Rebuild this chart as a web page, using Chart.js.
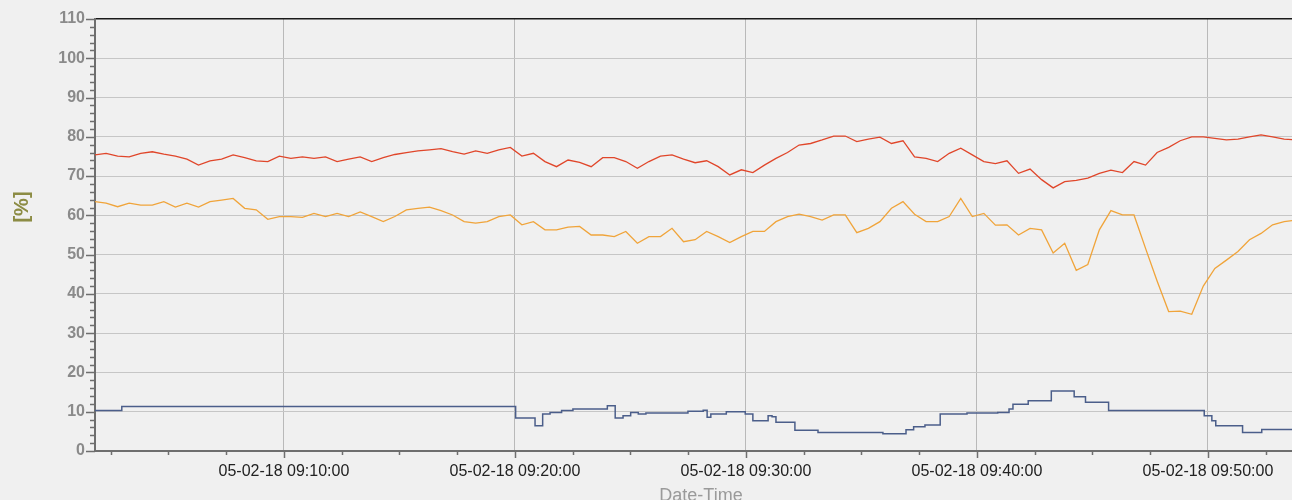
<!DOCTYPE html>
<html>
<head>
<meta charset="utf-8">
<script src="https://cdn.jsdelivr.net/npm/chart.js@4.4.1/dist/chart.umd.min.js"></script>
<style>
  html, body { margin: 0; padding: 0; background: #f0f0f0; overflow: hidden; }
  #wrap { width: 1292px; height: 500px; position: relative; }
</style>
</head>
<body>
<div id="wrap"><canvas id="myChart"></canvas></div>
<script>
// logger samples every 30 s, minutes after 09:00
const sampleStart = 1.8;
const sampleStep = 0.5;

const redValues = [
  75.4, 75.8, 75.1, 74.9, 75.8, 76.2, 75.6, 75.1, 74.3, 72.8,
  73.9, 74.3, 75.4, 74.7, 73.9, 73.7, 75.1, 74.5, 74.9, 74.5,
  74.9, 73.7, 74.3, 74.9, 73.7, 74.7, 75.5, 76.0, 76.4, 76.7,
  77.0, 76.2, 75.6, 76.4, 75.8, 76.7, 77.3, 75.1, 75.8, 73.7,
  72.4, 74.1, 73.5, 72.4, 74.7, 74.7, 73.7, 72.0, 73.7, 75.1,
  75.4, 74.3, 73.4, 73.9, 72.4, 70.3, 71.6, 70.9, 72.8, 74.5,
  76.0, 77.9, 78.3, 79.2, 80.2, 80.2, 78.8, 79.4, 79.9, 78.3,
  79.0, 74.9, 74.5, 73.7, 75.8, 77.1, 75.4, 73.7, 73.2, 73.9,
  70.7, 71.8, 69.1, 67.0, 68.6, 68.9, 69.5, 70.7, 71.5, 70.9,
  73.7, 72.8, 76.0, 77.3, 79.0, 80.0, 80.0, 79.6, 79.2, 79.4,
  80.0, 80.5, 80.0, 79.4, 79.2
];

const orangeValues = [
  63.5, 63.1, 62.2, 63.1, 62.6, 62.6, 63.5, 62.1, 63.1, 62.1,
  63.5, 63.9, 64.3, 61.8, 61.4, 59.0, 59.7, 59.7, 59.5, 60.5,
  59.7, 60.5, 59.7, 60.9, 59.7, 58.4, 59.7, 61.4, 61.8, 62.1,
  61.2, 60.1, 58.4, 58.0, 58.4, 59.7, 60.1, 57.6, 58.4, 56.3,
  56.3, 57.0, 57.2, 55.0, 55.0, 54.6, 55.9, 52.9, 54.6, 54.6,
  56.7, 53.3, 53.8, 55.9, 54.6, 53.1, 54.6, 55.9, 55.9, 58.4,
  59.7, 60.3, 59.7, 58.8, 60.1, 60.1, 55.6, 56.7, 58.4, 61.8,
  63.5, 60.3, 58.4, 58.4, 59.7, 64.3, 59.7, 60.5, 57.5, 57.6,
  55.0, 56.7, 56.3, 50.4, 52.9, 46.0, 47.5, 56.3, 61.2, 60.1,
  60.1, 51.6, 43.3, 35.5, 35.6, 34.8, 42.0, 46.5, 48.6, 50.8,
  53.8, 55.4, 57.6, 58.4, 58.8
];

// blue series is a step signal: time of each change and the new value
const blueTimes = [
  1.82, 2.98, 20.03, 20.87, 21.2, 21.52, 22.02, 22.51, 24.0, 24.34,
  24.68, 25.01, 25.34, 25.67, 27.49, 28.15, 28.32, 28.48, 29.15, 29.97,
  30.3, 30.96, 31.13, 31.3, 32.12, 33.12, 35.93, 36.93, 37.26, 37.75,
  38.41, 39.57, 40.9, 41.39, 41.56, 42.22, 43.22, 44.21, 44.7, 45.7,
  49.84, 50.17, 50.34, 51.5, 52.33, 53.64
];
const blueValues = [
  10.3, 11.3, 8.4, 6.4, 9.4, 9.8, 10.3, 10.7, 11.5, 8.4,
  9.0, 9.8, 9.4, 9.7, 10.1, 10.4, 8.6, 9.4, 10.0, 9.4,
  7.7, 9.0, 8.7, 7.3, 5.3, 4.7, 4.4, 5.4, 6.2, 6.6,
  9.4, 9.7, 9.8, 10.7, 11.9, 12.8, 15.3, 13.8, 12.4, 10.3,
  9.0, 7.7, 6.4, 4.7, 5.5, 5.5
];

const xMin = 1.82;
const xMax = 53.64;
const yMin = 0;
const yMax = 110;
const datePrefix = "05-02-18 09:";
const yTitle = "[%]";
const xTitle = "Date-Time";

function pts(times, vals) {
  return vals.map((v, i) => ({ x: times[i], y: v }));
}
const sampleTimes = redValues.map((_, i) => sampleStart + i * sampleStep);

const axisColor = "#6e6e6e";
const gridColor = "#c6c6c6";

// small/large tick marks drawn by hand (chart.js has no minor ticks)
const tickMarks = {
  id: "tickMarks",
  afterDraw(chart) {
    const c = chart.ctx;
    const xs = chart.scales.x;
    const ys = chart.scales.y;
    const area = chart.chartArea;
    c.save();
    c.strokeStyle = axisColor;
    c.lineWidth = 1.5;
    c.beginPath();
    ys.ticks.forEach((t) => {
      const y = Math.round(ys.getPixelForValue(t.value)) + 0.5;
      const len = t.value % 10 === 0 ? 9 : 5;
      c.moveTo(area.left - len, y);
      c.lineTo(area.left, y);
    });
    xs.ticks.forEach((t) => {
      const x = Math.round(xs.getPixelForValue(t.value)) + 0.5;
      const len = t.value % 10 === 0 ? 7 : 4;
      c.moveTo(x, area.bottom);
      c.lineTo(x, area.bottom + len);
    });
    c.stroke();

    // axis titles
    c.fillStyle = "#8c8c44";
    c.font = "bold 20px Arial, 'Liberation Sans'";
    c.textAlign = "center";
    c.textBaseline = "middle";
    c.translate(22, 207);
    c.rotate(-Math.PI / 2);
    c.fillText(yTitle, 0, 0);
    c.restore();

    c.save();
    c.fillStyle = "#9a9a9a";
    c.font = "18px Arial, 'Liberation Sans'";
    c.textAlign = "center";
    c.textBaseline = "middle";
    c.fillText(xTitle, 701, 496);
    c.restore();
  },
};

const ctx = document.getElementById("myChart").getContext("2d");
const myChart = new Chart(ctx, {
  type: "line",
  data: {
    datasets: [
      {
        label: "red",
        data: pts(sampleTimes, redValues),
        borderColor: "#e0462a",
        borderWidth: 1.3,
        pointRadius: 0,
        tension: 0,
      },
      {
        label: "orange",
        data: pts(sampleTimes, orangeValues),
        borderColor: "#f0a43a",
        borderWidth: 1.3,
        pointRadius: 0,
        tension: 0,
      },
      {
        label: "blue",
        data: pts(blueTimes, blueValues),
        borderColor: "#4b5e8a",
        borderWidth: 1.5,
        pointRadius: 0,
        stepped: true,
      },
    ],
  },
  options: {
    responsive: true,
    maintainAspectRatio: false,
    animation: false,
    layout: { padding: { top: 19, right: 0, left: 0, bottom: 0 } },
    plugins: {
      legend: { display: false },
      tooltip: { enabled: false },
    },
    scales: {
      x: {
        type: "linear",
        min: xMin,
        max: xMax,
        afterBuildTicks: (s) => {
          const t = [];
          for (let v = Math.ceil(xMin / 2.5) * 2.5; v <= xMax; v += 2.5) t.push({ value: v });
          s.ticks = t;
        },
        afterFit: (s) => {
          s.height = 49;
          s.paddingLeft = 0;
          s.paddingRight = 0;
        },
        ticks: {
          autoSkip: false,
          maxRotation: 0,
          padding: 11,
          color: "#222",
          font: { family: "Arial, 'Liberation Sans'", size: 16 },
          callback: (v) => (v % 10 === 0 ? datePrefix + String(v).padStart(2, "0") + ":00" : ""),
        },
        grid: {
          drawTicks: false,
          color: (c) => (c.tick && c.tick.value % 10 === 0 ? "#b9b9b9" : "rgba(0,0,0,0)"),
          lineWidth: 1,
        },
        border: { color: axisColor, width: 2 },
      },
      y: {
        min: yMin,
        max: yMax,
        afterBuildTicks: (s) => {
          const t = [];
          for (let v = yMin; v <= yMax; v += 2) t.push({ value: v });
          s.ticks = t;
        },
        afterFit: (s) => {
          s.width = 95;
          s.paddingTop = 0;
          s.paddingBottom = 0;
        },
        ticks: {
          autoSkip: false,
          padding: 10,
          color: "#8a8a8a",
          font: { family: "Arial, 'Liberation Sans'", size: 16, weight: "bold" },
          callback: (v) => (v % 10 === 0 ? String(v) : ""),
        },
        grid: {
          drawTicks: false,
          color: (c) => {
            if (!c.tick) return "rgba(0,0,0,0)";
            if (c.tick.value === yMax) return "#1a1a1a";
            return c.tick.value % 10 === 0 ? gridColor : "rgba(0,0,0,0)";
          },
          lineWidth: (c) => (c.tick && c.tick.value === yMax ? 1.5 : 1),
        },
        border: { color: axisColor, width: 2 },
      },
    },
  },
  plugins: [tickMarks],
});
</script>
</body>
</html>
